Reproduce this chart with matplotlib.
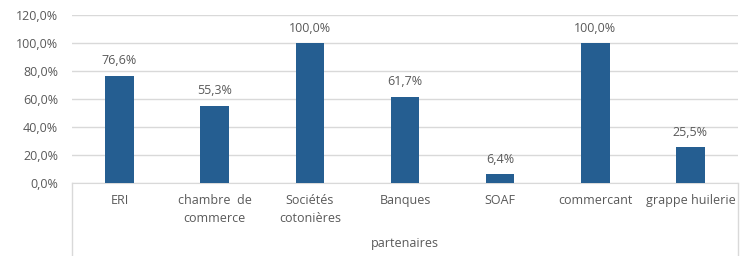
import matplotlib
matplotlib.use("Agg")
import matplotlib.pyplot as plt
from matplotlib.lines import Line2D

categories = ["ERI", "chambre  de\ncommerce", "Sociétés\ncotonières", "Banques", "SOAF", "commercant", "grappe huilerie"]
values = [76.6, 55.3, 100.0, 61.7, 6.4, 100.0, 25.5]
yticks = [0, 20, 40, 60, 80, 100, 120]
axis_title = "partenaires"

bar_color = "#255E91"
text_color = "#595959"
grid_color = "#D9D9D9"

plt.rcParams['font.family'] = ['Open Sans', 'DejaVu Sans']

W, H = 741, 256
fig = plt.figure(figsize=(W/100, H/100), dpi=100)
L, R, B, T = 72, 738, 183, 15
ax = fig.add_axes([L/W, 1 - B/H, (R-L)/W, (B-T)/H])

x = list(range(len(categories)))
ax.bar(x, values, width=0.30, color=bar_color, zorder=3)
ax.set_xlim(-0.5, len(categories) - 0.5)
ax.set_ylim(0, 120)
ax.set_yticks(yticks)
ax.set_yticklabels([f"{v:.1f}%".replace(".", ",") for v in yticks], color=text_color, fontsize=9)
ax.tick_params(axis='y', length=0, pad=10)
ax.yaxis.grid(True, color=grid_color, linewidth=1)
ax.set_axisbelow(True)
for s in ['top', 'right', 'left']:
    ax.spines[s].set_visible(False)
ax.spines['bottom'].set_color(grid_color)
ax.set_xticks(x)
ax.set_xticklabels(categories, color=text_color, fontsize=9, linespacing=1.5, va='top')
ax.tick_params(axis='x', length=0, pad=8)

for xi, v in zip(x, values):
    ax.annotate(f"{v:.1f}%".replace(".", ","), (xi, v), xytext=(0, 6), textcoords='offset points',
                ha='center', va='bottom', color=text_color, fontsize=9)

# category box lines
fig.add_artist(Line2D([L/W, L/W], [0, 1 - B/H], color=grid_color, linewidth=1))
fig.add_artist(Line2D([R/W, R/W], [0, 1 - B/H], color=grid_color, linewidth=1))

fig.text((L + R) / 2 / W, 1 - 243/H, axis_title, ha='center', va='center', color=text_color, fontsize=9)

fig.savefig("out.png", dpi=100)
